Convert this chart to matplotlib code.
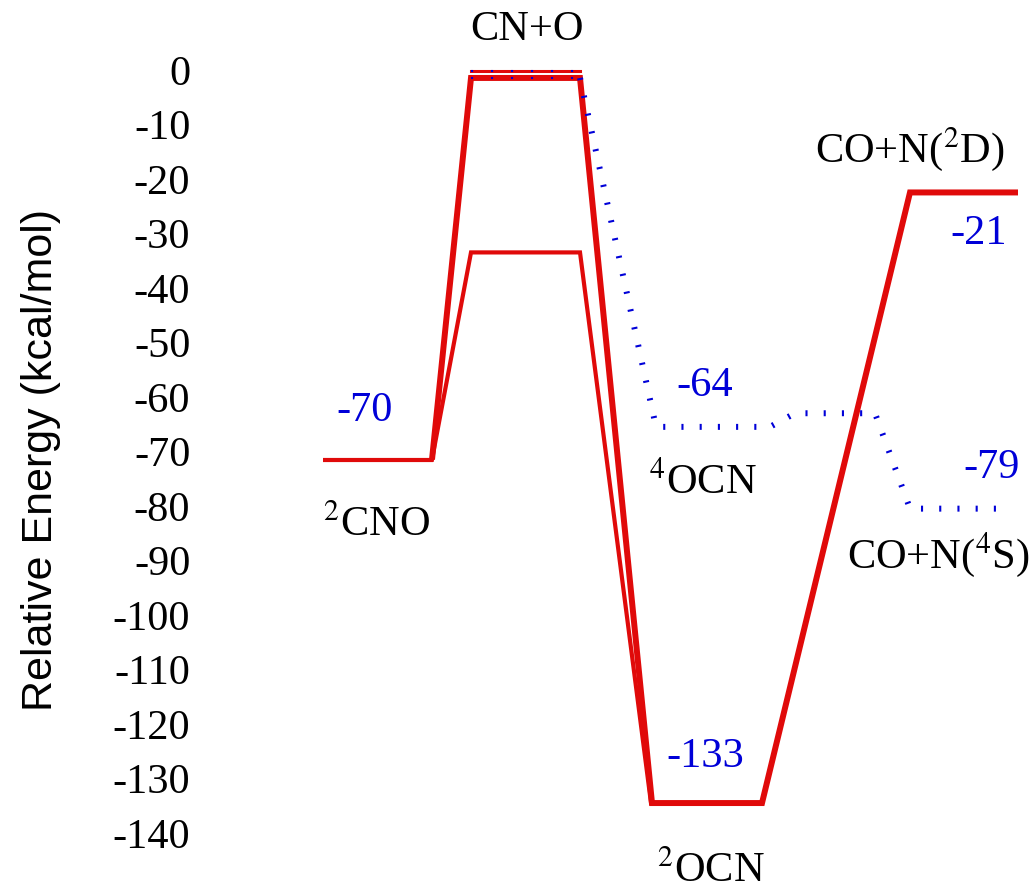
import matplotlib.pyplot as plt
from matplotlib.transforms import ScaledTranslation

plt.rcParams['font.family'] = 'Liberation Serif'
plt.rcParams['mathtext.fontset'] = 'stix'

# energies in kcal/mol
e_cno = -70
e_ts_high = 0
e_ts_high2 = 1.2
e_ts_low = -32
e_ocn2 = -133
e_prod_2d = -21
e_ocn4 = -64
e_ts_quartet = -61.5
e_prod_4s = -79

ticks = list(range(0, -150, -10))

red = '#e00a0a'
blue = '#0000d8'

fig = plt.figure(figsize=(10.35, 8.93), dpi=100)
ax = fig.add_axes([200 / 1035, 0, 835 / 1035, 1])
ax.set_xlim(200, 1035)
ax.set_ylim(-149.5, 14.3)

# doublet surface: ground state level, then both routes
ax.plot([323, 433], [e_cno, e_cno], color=red, lw=3, solid_capstyle='butt')
ax.plot([432, 471, 580, 652, 762, 910, 1018],
        [e_cno, e_ts_high, e_ts_high, e_ocn2, e_ocn2, e_prod_2d, e_prod_2d],
        color=red, lw=4.3, solid_joinstyle='miter', solid_capstyle='butt')
ax.plot([432, 471, 580, 651],
        [e_cno, e_ts_low, e_ts_low, e_ocn2],
        color=red, lw=3, solid_joinstyle='miter')
ax.plot([471, 580], [e_ts_high2, e_ts_high2], color=red, lw=2.2)

# quartet surface (dotted)
dots = (0, (0.35, 2.7))
for lev in (e_ts_high, e_ts_high2):
    ax.plot([471, 582], [lev, lev], color=blue, lw=1.5,
            linestyle=(0, (1.0, 8.6)), dash_capstyle='butt')
ax.plot([580, 656, 770, 795, 875, 910, 1012],
        [e_ts_high, e_ocn4, e_ocn4, e_ts_quartet, e_ts_quartet,
         e_prod_4s, e_prod_4s],
        color=blue, lw=4.3, linestyle=dots, dash_capstyle='butt')

fs = 30.5
# species names
ax.text(527, 8.8, 'CN+O', fontsize=fs, ha='center', va='center')
ax.text(377, -82, r'$^{2}$CNO', fontsize=fs, ha='center', va='center')
ax.text(703, -74, r'$^{4}$OCN', fontsize=fs, ha='center', va='center')
ax.text(711, -145.5, r'$^{2}$OCN', fontsize=fs, ha='center', va='center')
ax.text(910, -13, r'CO+N($^{2}$D)', fontsize=fs, ha='center', va='center')
ax.text(938, -87.5, r'CO+N($^{4}$S)', fontsize=fs, ha='center', va='center')

# energy values
ax.text(365, -61, str(e_cno), fontsize=fs, color=blue, ha='center', va='center')
ax.text(705, -56.5, str(e_ocn4), fontsize=fs, color=blue, ha='center', va='center')
ax.text(705, -124.5, str(e_ocn2), fontsize=fs, color=blue, ha='center', va='center')
ax.text(979, -28.5, str(e_prod_2d), fontsize=fs, color=blue, ha='center', va='center')
ax.text(992, -71.5, str(e_prod_4s), fontsize=fs, color=blue, ha='center', va='center')

ax.set_yticks(ticks)
ax.set_yticklabels([str(t) for t in ticks], fontsize=fs)
ax.tick_params(axis='y', length=0, pad=7)
ax.set_xticks([])
for lab in ax.get_yticklabels():
    lab.set_transform(lab.get_transform() + ScaledTranslation(0, 8 / 100, fig.dpi_scale_trans))
for s in ax.spines.values():
    s.set_visible(False)

ax.set_ylabel('Relative Energy (kcal/mol)', fontsize=31, family='Liberation Sans')
ax.yaxis.set_label_coords(-0.166, 0.485)

fig.savefig('out.png', dpi=100)
